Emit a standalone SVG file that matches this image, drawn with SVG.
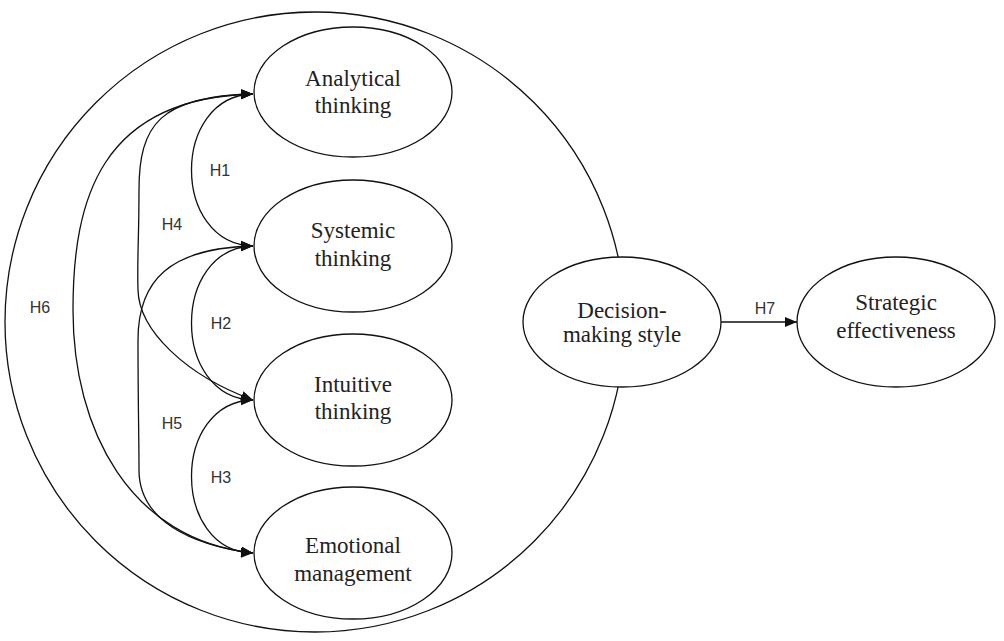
<svg xmlns="http://www.w3.org/2000/svg" width="1004" height="641" viewBox="0 0 1004 641">
<style>
.node{fill:#fff;stroke:#111;stroke-width:1.3}
.frame{fill:none;stroke:#111;stroke-width:1.3}
.ntext{font-family:"Liberation Serif","Times New Roman",serif;font-size:23px;fill:#222;text-anchor:middle}
.edge{fill:none;stroke:#111;stroke-width:1.3}
.lbl{font-family:"Liberation Sans",Arial,sans-serif;font-size:16px;fill:#333;text-anchor:middle}
</style>
<defs>
<marker id="arr" markerUnits="userSpaceOnUse" markerWidth="13" markerHeight="11" refX="12" refY="5.5" orient="auto-start-reverse">
<path d="M0,0.5 L12,5.5 L0,10.5 z" fill="#111"/>
</marker>
</defs>
<rect width="1004" height="641" fill="#fff"/>
<circle id="frame" class="frame" cx="315" cy="322" r="310"/>
<g id="connectors">
<path class="edge" d="M253,94 C171,96 171,244 253,246" marker-start="url(#arr)" marker-end="url(#arr)"/>
<path class="edge" d="M253,246 C171,248 171,398 253,400" marker-start="url(#arr)" marker-end="url(#arr)"/>
<path class="edge" d="M253,400 C171,402 171,551 253,553" marker-start="url(#arr)" marker-end="url(#arr)"/>
<path class="edge" d="M253,94 C160,96 139,125 139,190 C139,240 137,260 138,290 C139,330 185,375 253,400" marker-start="url(#arr)" marker-end="url(#arr)"/>
<path class="edge" d="M253,246 C170,248 138,280 138,340 C138,400 139,440 139,470 C139,520 190,545 253,553" marker-start="url(#arr)" marker-end="url(#arr)"/>
<path class="edge" d="M253,94 C100,98 73,200 73,310 C73,430 130,540 253,553" marker-start="url(#arr)" marker-end="url(#arr)"/>
<path class="edge" d="M721,322 L797,322" marker-end="url(#arr)"/>
<text class="lbl" x="220" y="176">H1</text>
<text class="lbl" x="172" y="230">H4</text>
<text class="lbl" x="221" y="329">H2</text>
<text class="lbl" x="40" y="313">H6</text>
<text class="lbl" x="172" y="429">H5</text>
<text class="lbl" x="221" y="483">H3</text>
<text class="lbl" x="765" y="314">H7</text>
</g>
<g id="analytical">
<ellipse class="node" cx="353" cy="92" rx="99" ry="65"/>
<text class="ntext" x="353" y="86">Analytical</text>
<text class="ntext" x="353" y="113">thinking</text>
</g>
<g id="systemic">
<ellipse class="node" cx="353" cy="246" rx="99" ry="66"/>
<text class="ntext" x="353" y="238">Systemic</text>
<text class="ntext" x="353" y="266">thinking</text>
</g>
<g id="intuitive">
<ellipse class="node" cx="353" cy="400" rx="99" ry="66"/>
<text class="ntext" x="353" y="392">Intuitive</text>
<text class="ntext" x="353" y="419">thinking</text>
</g>
<g id="emotional">
<ellipse class="node" cx="353" cy="553" rx="99" ry="66"/>
<text class="ntext" x="353" y="553">Emotional</text>
<text class="ntext" x="353" y="581">management</text>
</g>
<g id="decision">
<ellipse class="node" cx="622" cy="322" rx="99" ry="65"/>
<text class="ntext" x="622" y="318">Decision-</text>
<text class="ntext" x="622" y="342">making style</text>
</g>
<g id="strategic">
<ellipse class="node" cx="896" cy="322" rx="99" ry="65"/>
<text class="ntext" x="896" y="310">Strategic</text>
<text class="ntext" x="896" y="338">effectiveness</text>
</g>
</svg>
